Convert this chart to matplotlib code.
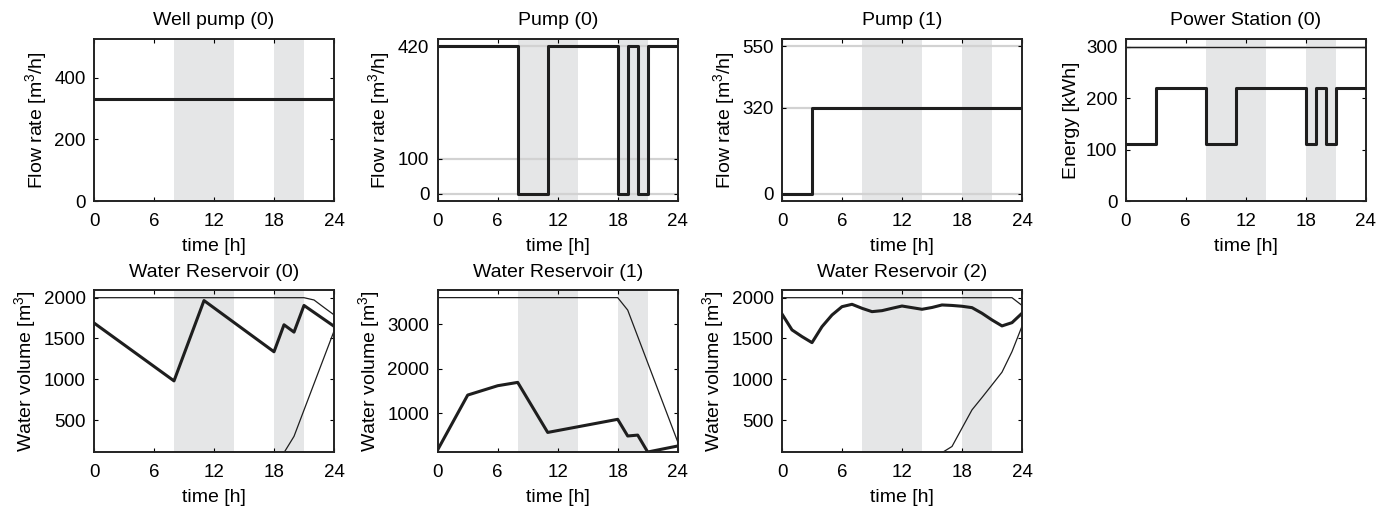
import matplotlib
matplotlib.use("Agg")
import matplotlib.pyplot as plt

plt.rcParams['font.family'] = ['Liberation Sans', 'DejaVu Sans']
plt.rcParams['mathtext.fontset'] = 'custom'
plt.rcParams['mathtext.rm'] = 'Liberation Sans'
plt.rcParams['mathtext.it'] = 'Liberation Sans:italic'
plt.rcParams['font.size'] = 13.5

# peak-price windows (shaded)
shade_spans = [(8, 14), (18, 21)]
hour_ticks = [0, 6, 12, 18, 24]

# top row: pumps and power station (step profiles, value holds until next breakpoint)
well_t = [0, 24]
well_q = [330, 330]

pump0_t = [0, 8, 11, 18, 19, 20, 21, 24]
pump0_q = [420, 0, 420, 0, 420, 0, 420, 420]
pump0_bounds = [0, 100, 420]

pump1_t = [0, 3, 24]
pump1_q = [0, 320, 320]
pump1_bounds = [0, 320, 550]

power_t = [0, 3, 8, 11, 18, 19, 20, 21, 24]
power_e = [110, 220, 110, 220, 110, 220, 110, 220, 220]
power_max = 300

# bottom row: reservoir volumes
res0_t = [0, 8, 11, 18, 19, 20, 21, 24]
res0_v = [1690, 980, 1965, 1337, 1668, 1578, 1905, 1650]
res0_up_t = [0, 21, 22, 23, 24]
res0_up_v = [2000, 2000, 1972, 1880, 1790]
res0_lo_t = [19, 20, 24]
res0_lo_v = [100, 300, 1590]

res1_t = [0, 3, 6, 8, 11, 18, 19, 20, 21, 24]
res1_v = [180, 1410, 1620, 1695, 570, 865, 490, 510, 130, 265]
res1_up_t = [0, 18, 19, 24]
res1_up_v = [3600, 3600, 3320, 360]

res2_t = list(range(25))
res2_v = [1800, 1605, 1523, 1449, 1645, 1788, 1890, 1919, 1870, 1829, 1841, 1870, 1898,
          1878, 1858, 1880, 1911, 1905, 1895, 1878, 1809, 1727, 1654, 1694, 1809]
res2_up_t = [0, 23, 24]
res2_up_v = [2000, 2000, 1905]
res2_lo_t = [16, 17, 18, 19, 20, 21, 22, 23, 24]
res2_lo_v = [100, 176, 401, 625, 776, 931, 1087, 1339, 1650]

W, H = 1392, 513
col_left = [94, 437.7, 782, 1125.7]
ax_w, ax_h = 240, 162
row_bottom = [201, 451.7]

SHADE_C = '#e5e6e7'
LINE_C = '#1e1e1e'
BOUND_C = '#d2d2d2'


def make_ax(fig, col, row):
    ax = fig.add_axes([col_left[col] / W, 1 - row_bottom[row] / H, ax_w / W, ax_h / H])
    for a, b in shade_spans:
        ax.axvspan(a, b, color=SHADE_C, lw=0, zorder=0)
    ax.set_xlim(0, 24)
    ax.set_xticks(hour_ticks)
    ax.tick_params(direction='in', top=True, right=True, length=3, width=0.8, pad=6)
    ax.tick_params(axis='x', pad=8.5)
    for s in ax.spines.values():
        s.set_linewidth(1.4)
        s.set_color('#222222')
        s.set_zorder(5)
    ax.set_xlabel('time [h]', labelpad=6, fontsize=14)
    return ax


fig = plt.figure(figsize=(W / 100, H / 100), dpi=100)

# Well pump (0)
ax = make_ax(fig, 0, 0)
ax.step(well_t, well_q, where='post', color=LINE_C, lw=2.2)
ax.set_ylim(0, 525)
ax.set_yticks([0, 200, 400])
ax.set_ylabel('Flow rate [m$^3$/h]', fontsize=14)
ax.set_title('Well pump (0)', fontsize=14, pad=10)

# Pump (0)
ax = make_ax(fig, 1, 0)
for b in pump0_bounds:
    ax.axhline(b, color=BOUND_C, lw=1.6, zorder=1)
ax.step(pump0_t, pump0_q, where='post', color=LINE_C, lw=2.2, zorder=3)
ax.set_ylim(-21, 441)
ax.set_yticks(pump0_bounds)
ax.set_ylabel('Flow rate [m$^3$/h]', fontsize=14)
ax.set_title('Pump (0)', fontsize=14, pad=10)

# Pump (1)
ax = make_ax(fig, 2, 0)
for b in pump1_bounds:
    ax.axhline(b, color=BOUND_C, lw=1.6, zorder=1)
ax.step(pump1_t, pump1_q, where='post', color=LINE_C, lw=2.2, zorder=3)
ax.set_ylim(-27.5, 577.5)
ax.set_yticks(pump1_bounds)
ax.set_ylabel('Flow rate [m$^3$/h]', fontsize=14)
ax.set_title('Pump (1)', fontsize=14, pad=10)

# Power Station (0)
ax = make_ax(fig, 3, 0)
ax.axhline(power_max, color='#c8c8c8', lw=2.2, zorder=1)
ax.axhline(power_max, color=LINE_C, lw=0.8, zorder=2)
ax.step(power_t, power_e, where='post', color=LINE_C, lw=2.2, zorder=3)
ax.set_ylim(0, 315)
ax.set_yticks([0, 100, 200, 300])
ax.set_ylabel('Energy [kWh]', fontsize=14)
ax.set_title('Power Station (0)', fontsize=14, pad=10)

# Water Reservoir (0)
ax = make_ax(fig, 0, 1)
ax.plot(res0_up_t, res0_up_v, color=LINE_C, lw=0.9, zorder=2)
ax.plot(res0_lo_t, res0_lo_v, color=LINE_C, lw=0.9, zorder=2)
ax.plot(res0_t, res0_v, color=LINE_C, lw=2.2, zorder=3)
ax.set_ylim(112, 2098)
ax.set_yticks([500, 1000, 1500, 2000])
ax.set_ylabel('Water volume [m$^3$]', fontsize=14)
ax.set_title('Water Reservoir (0)', fontsize=14, pad=9)

# Water Reservoir (1)
ax = make_ax(fig, 1, 1)
ax.plot(res1_up_t, res1_up_v, color=LINE_C, lw=0.9, zorder=2)
ax.plot(res1_t, res1_v, color=LINE_C, lw=2.2, zorder=3)
ax.set_ylim(137, 3778)
ax.set_yticks([1000, 2000, 3000])
ax.set_ylabel('Water volume [m$^3$]', fontsize=14)
ax.set_title('Water Reservoir (1)', fontsize=14, pad=9)

# Water Reservoir (2)
ax = make_ax(fig, 2, 1)
ax.plot(res2_up_t, res2_up_v, color=LINE_C, lw=0.9, zorder=2)
ax.plot(res2_lo_t, res2_lo_v, color=LINE_C, lw=0.9, zorder=2)
ax.plot(res2_t, res2_v, color=LINE_C, lw=2.2, zorder=3)
ax.set_ylim(112, 2098)
ax.set_yticks([500, 1000, 1500, 2000])
ax.set_ylabel('Water volume [m$^3$]', fontsize=14)
ax.set_title('Water Reservoir (2)', fontsize=14, pad=9)

fig.savefig('out.png', dpi=100)
